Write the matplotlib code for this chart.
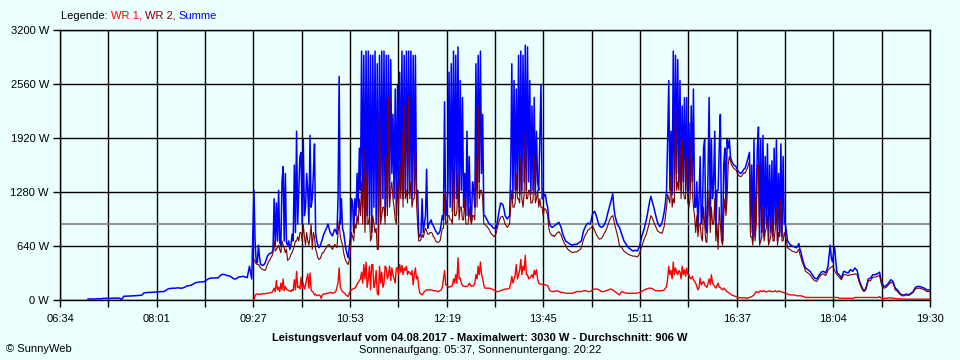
import numpy as np
import matplotlib
matplotlib.use("Agg")
import matplotlib.pyplot as plt

plt.rcParams["font.family"] = ["Liberation Sans", "DejaVu Sans"]

# ---------------- data ----------------
# times in minutes since midnight
start_frueh = 419   # 06:59, 2-minute values (only Summe)
step_frueh = 2
start_main = 567    # 09:27, 1-minute values
step_main = 1

summe_frueh = [12, 12, 12, 12, 15, 15, 15, 20, 20, 20, 20, 22, 22, 22, 22, 5,
               45, 45, 47, 47, 50, 50, 52, 55, 58, 85, 88, 90, 90, 92, 95, 95,
               98, 100, 100, 120, 135, 138, 140, 140, 145, 140, 140, 150, 165,
               170, 175, 190, 205, 210, 215, 215, 220, 240, 255, 260, 260, 262,
               262, 290, 305, 300, 290, 285, 270, 250, 250, 270, 275, 280, 275,
               265, 400, 250]

# Summe (W), 09:27 - 19:30, minute by minute
summe = [
    1300, 700, 450, 440, 650, 500, 420, 415, 410, 420, 440, 480, 520, 540, 550, 555, 560, 600,
    1200, 650, 1150, 700, 1300, 680, 650, 1400, 1580, 700, 1500, 680, 650, 700, 600, 650, 780, 700,
    1600, 800, 2000, 900, 1300, 1700, 1750, 900, 1900, 1000, 1100, 1500, 1300, 900, 1950, 1100, 1200, 1500, 1850, 800,
    700, 650, 620, 640, 680, 720, 770, 800, 830, 860, 900, 850, 800, 780, 760, 800, 840, 820, 780, 1200,
    2650, 900, 1200, 850, 800, 700, 600, 550, 500, 620, 750, 1200, 1150, 800, 1200, 1000, 1500, 1100, 1800, 1300,
    2950, 1100, 2900, 900, 2950, 1000, 2950, 1000, 2900, 800, 2900, 1100, 2950, 900, 2800, 640, 2900, 1000,
    2950, 1200, 2950, 1000, 2900, 1100, 2900, 1200, 2850, 1500, 2200, 1200, 2500, 1000, 2550, 1200, 2700, 1300,
    2950, 1200, 2900, 1300, 2950, 1250, 2950, 1300, 2950, 1200, 2900, 1300, 2900, 1250, 1300, 750,
    750, 800, 1200, 800, 900, 1000, 1550, 850, 900, 920, 950, 900, 880, 850, 820, 800, 780, 790, 820, 900, 1000, 950,
    2350, 1000, 1100, 1300, 2700, 1100, 2800, 1050, 2950, 1200, 2900, 1200, 3000, 1100, 2600, 1300, 2400, 1100,
    1500, 1000, 2000, 1000, 1700, 1100, 950, 1400, 1300, 1100, 2800, 1300, 2900, 1400, 2950, 1500, 2200, 1000,
    1000, 970, 950, 920, 900, 890, 880, 860, 850, 850, 850, 920, 1000, 1080, 1150, 1140, 1130, 1080, 1000, 980,
    960, 980, 1000, 1500,
    2800, 1200, 2600, 1300, 2500, 1300, 2900, 1250, 2950, 1300, 2900, 1400, 3020, 1300, 3000, 1400, 2600, 1250,
    2300, 1300, 2400, 1250, 2000, 1400, 1300, 1900, 2550, 1200, 1200, 1250, 1250, 1150,
    1100, 950, 890, 870, 860, 870, 880, 890, 900, 910, 920, 890, 860, 800, 760, 730, 700, 690, 680, 670,
    660, 655, 650, 655, 660, 660, 660, 670, 680, 690, 700, 760, 820, 850, 880, 900, 910, 905, 900, 960,
    1020, 1040, 1050, 1010, 970, 920, 880, 870, 860, 870, 880, 910, 940, 1000, 1050, 1100, 1150, 1200, 1260, 1100,
    1000, 950, 900, 880, 860, 820,
    780, 740, 700, 680, 660, 640, 620, 610, 600, 590, 580, 585, 590, 585, 580, 610, 640, 700, 760, 800,
    840, 900, 950, 1020, 1100, 1170, 1230, 1180, 1130, 1080, 1020, 970, 920, 890, 870, 890, 920, 980, 1050, 1150,
    1300, 1900, 2600, 1300, 2000, 1250, 2950, 1300, 2900, 1500, 2850, 1400, 2600, 1300, 2300, 1400, 2400, 1300,
    2400, 1250, 2100, 1300, 2300, 1400, 2500, 1100,
    1100, 1400, 850, 1200, 1700, 900, 1000, 1800, 1900, 850, 800, 1500, 2400, 1000, 1900, 1200, 1400, 2000,
    800, 1300, 1300, 1800, 2200, 900, 700, 1600, 1800, 1100, 1900, 1800,
    1900, 1700, 1650, 1620, 1600, 1590, 1580, 1550, 1520, 1510, 1500, 1510, 1530, 1550, 1560, 1600,
    1650, 1700, 1750, 800, 1600, 700, 1900, 750, 1200, 1800, 2050, 700, 1900, 800, 1950, 750, 1700, 900,
    1850, 700, 1600, 800, 1650, 750, 1800, 900, 1900, 700, 1500, 800, 1850, 750, 1700, 900,
    900, 800, 700, 680, 660, 650, 640, 635, 630, 625, 620, 640, 670, 600, 560, 500, 450, 410, 380, 370,
    360, 350, 340, 320, 300, 280, 260, 255, 250, 270, 290, 310, 330, 335, 340, 330, 320, 360, 400, 520,
    650, 500, 450, 560, 620, 450, 330, 310, 300, 280, 260, 300, 340, 335, 330, 325, 320, 340, 360, 350,
    340, 360, 380, 365, 350, 290, 230, 190, 160, 130, 110, 120, 150, 200, 250, 255, 260, 280, 300, 300,
    300, 305, 310, 320, 330, 260, 200, 180, 160, 165, 170, 185, 200, 220, 240, 230, 220, 180, 140, 130,
    120, 100, 80, 70, 60, 60, 60, 65, 70, 65, 60, 70, 80, 90, 100, 125, 150, 155, 160, 160,
    160, 155, 150, 145, 140, 130, 120, 120, 120, 120,
]

# WR 2 (W), same times
wr2 = [
    480, 450, 430, 420, 420, 400, 380, 370, 360, 355, 350, 380, 420, 450, 470, 500, 520, 560,
    700, 580, 600, 620, 650, 600, 560, 700, 650, 620, 560, 600, 470, 480, 500, 540, 560, 600,
    640, 700, 700, 750, 700, 800, 800, 700, 900, 750, 650, 800, 700, 650, 750, 900, 600, 800, 750, 600,
    560, 500, 480, 490, 520, 560, 560, 590, 610, 630, 650, 660, 640, 620, 600, 630, 660, 640, 620, 800,
    940, 750, 700, 650, 560, 500, 460, 440, 420, 480, 560, 800, 750, 700, 900, 850, 1000, 900, 1200, 1000,
    1400, 900, 1800, 800, 1500, 900, 900, 1000, 700, 750, 1000, 900, 800, 850, 600, 600, 2300, 900,
    1000, 1100, 1100, 900, 1700, 1000, 2400, 1100, 1300, 1400, 1200, 1100, 950, 900, 1400, 1100, 1600, 1200,
    2000, 1100, 2300, 1200, 1300, 1150, 2400, 1200, 1400, 1100, 1200, 1200, 1800, 1150, 900, 700,
    700, 720, 780, 740, 800, 850, 820, 780, 780, 800, 800, 790, 750, 740, 700, 690, 680, 690, 700, 780, 850, 850,
    1250, 900, 900, 1000, 1000, 950, 950, 900, 1600, 1000, 1000, 1050, 1500, 950, 1100, 1100, 950, 950,
    1200, 900, 900, 900, 1100, 950, 900, 1000, 1000, 950, 1700, 1100, 2300, 1200, 1300, 1300, 1200, 900,
    900, 880, 870, 850, 830, 800, 780, 770, 750, 760, 790, 850, 900, 950, 980, 990, 990, 950, 900, 880,
    860, 880, 900, 1100,
    1300, 1100, 1100, 1150, 1500, 1200, 1200, 1150, 1700, 1200, 1100, 1250, 2000, 1200, 1200, 1300, 1300, 1150,
    1150, 1200, 1700, 1150, 1200, 1300, 1100, 1200, 1100, 1100, 1000, 1080, 1080, 1050,
    1000, 850, 800, 780, 760, 770, 750, 770, 790, 800, 810, 790, 770, 730, 700, 670, 650, 620, 600, 590,
    580, 570, 560, 565, 570, 570, 570, 580, 590, 600, 620, 670, 720, 750, 780, 800, 830, 840, 850, 860,
    880, 850, 820, 790, 760, 740, 720, 725, 730, 750, 780, 800, 830, 860, 900, 940, 970, 990, 1000, 950,
    880, 830, 780, 720, 650, 630,
    620, 600, 580, 570, 560, 550, 540, 535, 530, 525, 520, 520, 520, 515, 510, 530, 560, 600, 640, 680,
    720, 750, 780, 830, 880, 940, 1000, 980, 950, 910, 880, 850, 820, 810, 800, 795, 790, 830, 880, 990,
    1100, 1250, 1200, 1150, 1500, 1100, 1200, 1150, 2300, 1300, 1400, 1300, 1800, 1200, 1900, 1300, 1200, 1200,
    1700, 1150, 1100, 1200, 1900, 1300, 1100, 1000,
    800, 1000, 750, 900, 900, 750, 700, 1100, 900, 700, 680, 1000, 1300, 800, 1100, 900, 900, 1200,
    700, 900, 600, 1100, 900, 700, 650, 1000, 1200, 1000, 1200, 1600,
    1700, 1650, 1600, 1580, 1560, 1550, 1540, 1510, 1480, 1470, 1460, 1470, 1490, 1510, 1500, 1530,
    1560, 1600, 1650, 750, 750, 650, 1200, 700, 900, 1600, 1600, 650, 700, 750, 1100, 700, 800, 850,
    1000, 650, 700, 750, 1000, 700, 700, 850, 1100, 650, 800, 750, 1200, 700, 700, 800,
    750, 700, 620, 610, 600, 590, 580, 575, 570, 565, 560, 580, 600, 540, 500, 450, 420, 380, 340, 330,
    320, 310, 300, 280, 260, 245, 230, 225, 220, 240, 260, 280, 300, 305, 310, 300, 290, 320, 350, 370,
    380, 390, 400, 380, 350, 320, 300, 285, 270, 255, 240, 270, 300, 300, 300, 295, 290, 295, 300, 300,
    300, 305, 310, 305, 300, 250, 210, 170, 140, 120, 100, 110, 130, 180, 230, 230, 230, 250, 270, 270,
    270, 275, 280, 285, 290, 230, 170, 155, 140, 145, 150, 165, 180, 195, 210, 205, 200, 160, 120, 110,
    100, 85, 70, 60, 50, 50, 50, 55, 60, 58, 55, 62, 70, 80, 90, 110, 130, 135, 140, 140,
    140, 135, 130, 125, 120, 110, 100, 100, 100, 100,
]

# WR 1 (W), same times
wr1 = [
    0, 50, 70, 70, 70, 65, 70, 72, 75, 75, 75, 78, 80, 82, 85, 88, 90, 110,
    140, 100, 230, 120, 150, 100, 200, 120, 250, 110, 160, 130, 120, 110, 110, 100, 120, 110,
    240, 120, 340, 150, 160, 130, 270, 140, 200, 130, 170, 250, 310, 140, 320, 120, 100, 90, 60, 70,
    50, 55, 60, 50, 20, 60, 70, 75, 70, 80, 80, 85, 90, 85, 80, 85, 90, 100, 150, 200,
    380, 150, 120, 100, 90, 80, 60, 50, 40, 80, 110, 120, 130, 135, 140, 160, 190, 210, 230, 250,
    330, 200, 420, 250, 450, 150, 250, 400, 120, 420, 420, 150, 200, 350, 80, 60, 400, 200,
    330, 150, 200, 400, 380, 250, 300, 400, 230, 380, 300, 250, 200, 380, 380, 300, 420, 330,
    410, 300, 380, 350, 400, 300, 340, 320, 300, 350, 180, 300, 380, 250, 280, 150,
    80, 70, 60, 80, 100, 110, 120, 120, 120, 120, 120, 115, 110, 110, 110, 105, 100, 105, 110, 120, 150, 250,
    350, 180, 170, 160, 150, 160, 160, 170, 250, 200, 300, 200, 500, 250, 260, 200, 170, 165,
    160, 160, 160, 170, 200, 180, 160, 165, 170, 200, 300, 250, 400, 300, 450, 300, 250, 180,
    140, 140, 140, 140, 140, 135, 130, 125, 120, 110, 100, 100, 100, 105, 110, 115, 120, 125, 130, 130,
    130, 135, 140, 200,
    280, 200, 250, 300, 420, 250, 300, 350, 480, 300, 400, 350, 530, 300, 300, 250, 260, 280,
    300, 260, 350, 300, 360, 250, 200, 190, 190, 185, 180, 180, 180, 175,
    170, 140, 110, 105, 100, 100, 100, 105, 110, 105, 100, 95, 90, 90, 90, 85, 80, 80, 80, 80,
    80, 80, 80, 85, 90, 95, 100, 100, 100, 100, 100, 105, 110, 110, 110, 105, 100, 100, 100, 110,
    120, 125, 130, 130, 130, 125, 120, 110, 100, 100, 100, 105, 110, 115, 120, 125, 130, 125, 120, 110,
    100, 90, 80, 70, 60, 80,
    100, 95, 90, 85, 80, 80, 80, 80, 80, 80, 80, 80, 80, 80, 80, 85, 90, 95, 100, 110,
    120, 125, 130, 135, 140, 140, 140, 135, 130, 120, 110, 110, 110, 110, 110, 110, 110, 115, 120, 140,
    160, 250, 400, 300, 350, 250, 450, 300, 380, 330, 300, 350, 330, 250, 400, 300, 360, 280,
    380, 300, 300, 260, 250, 280, 240, 220,
    200, 160, 120, 150, 260, 180, 200, 220, 180, 160, 150, 200, 250, 180, 300, 200, 180, 160,
    140, 170, 200, 150, 150, 130, 120, 140, 130, 110, 100, 90,
    80, 70, 60, 55, 50, 45, 40, 35, 30, 28, 25, 25, 25, 25, 25, 22,
    20, 25, 30, 35, 40, 50, 60, 80, 100, 90, 90, 100, 110, 100, 100, 110, 100, 95,
    100, 105, 110, 100, 100, 100, 100, 110, 100, 95, 110, 100, 100, 95, 90, 85,
    80, 75, 70, 65, 60, 60, 60, 60, 60, 55, 50, 50, 50, 50, 50, 45, 40, 35, 30, 30,
    30, 30, 30, 30, 30, 30, 30, 30, 30, 30, 30, 30, 30, 30, 30, 30, 30, 30, 30, 30,
    30, 30, 30, 30, 30, 30, 30, 30, 20, 20, 20, 20, 20, 20, 20, 20, 20, 20, 20, 20,
    20, 20, 30, 30, 30, 30, 30, 30, 30, 30, 30, 30, 30, 30, 30, 30, 30, 30, 30, 30,
    30, 30, 30, 30, 40, 30, 20, 20, 20, 20, 20, 20, 25, 25, 25, 22, 20, 18, 15, 15,
    15, 15, 15, 12, 10, 10, 10, 10, 10, 10, 10, 10, 10, 10, 10, 10, 10, 10, 10, 10,
    10, 10, 10, 10, 10, 10, 10, 10, 10, 10,
]

assert len(summe) == len(wr2) == len(wr1), (len(summe), len(wr2), len(wr1))

durchschnitt = 906
x_labels = ["06:34", "08:01", "09:27", "10:53", "12:19", "13:45",
            "15:11", "16:37", "18:04", "19:30"]
y_ticks = [0, 640, 1280, 1920, 2560, 3200]

# ---------------- figure ----------------
bg = "#EBFFFF"
fig = plt.figure(figsize=(9.6, 3.6), dpi=100, facecolor=bg)
ax = fig.add_axes([60 / 960, 60 / 360, 870 / 960, 270 / 360], facecolor=bg)

t0, t1 = 394, 1170
t_frueh = start_frueh + step_frueh * np.arange(len(summe_frueh))
t_main = start_main + step_main * np.arange(len(summe))

ax.plot(np.concatenate([t_frueh, t_main]), list(summe_frueh) + list(summe),
        color="#0000FF", lw=1.1, zorder=3)
ax.plot(t_main, wr2, color="#800000", lw=0.8, zorder=4)
ax.plot(t_main, wr1, color="#FF0000", lw=1.0, zorder=5)

ax.axhline(durchschnitt, color="#808080", lw=1.2, zorder=2)

ax.set_xlim(t0, t1)
ax.set_ylim(0, 3200)

xt = np.linspace(t0, t1, 19)
ax.set_xticks(xt)
lab = []
for i in range(19):
    lab.append(x_labels[i // 2] if i % 2 == 0 else "")
ax.set_xticklabels(lab)
ax.set_yticks(y_ticks)
ax.set_yticklabels([f"{v} W" for v in y_ticks])
ax.tick_params(axis="both", direction="out", length=5, width=1, color="black",
               labelsize=8, pad=3)
ax.tick_params(axis="x", pad=5)
ax.grid(True, color="black", lw=1.0, zorder=1)
ax.set_axisbelow(True)
for s in ax.spines.values():
    s.set_color("black")
    s.set_linewidth(1.0)

# legend text
fs = 8
t = fig.text(61 / 960, 1 - 16 / 360, "Legende: ", color="black", fontsize=fs, va="center")
for txt, col in [("WR 1, ", "#FF0000"), ("WR 2, ", "#800000"), ("Summe", "#0000FF")]:
    t = ax.annotate(txt, xy=(1, 0), xycoords=t, va="bottom", ha="left",
                    color=col, fontsize=fs, annotation_clip=False)

fig.text(480 / 960, 1 - 338 / 360,
         "Leistungsverlauf vom 04.08.2017 - Maximalwert: 3030 W - Durchschnitt: 906 W",
         ha="center", va="center", fontsize=8, fontweight="bold")
fig.text(480 / 960, 1 - 350 / 360, "Sonnenaufgang: 05:37, Sonnenuntergang: 20:22",
         ha="center", va="center", fontsize=8)
fig.text(6 / 960, 1 - 349 / 360, "\u00a9 SunnyWeb", ha="left", va="center", fontsize=8)

fig.savefig("out.png", dpi=100, facecolor=bg)
